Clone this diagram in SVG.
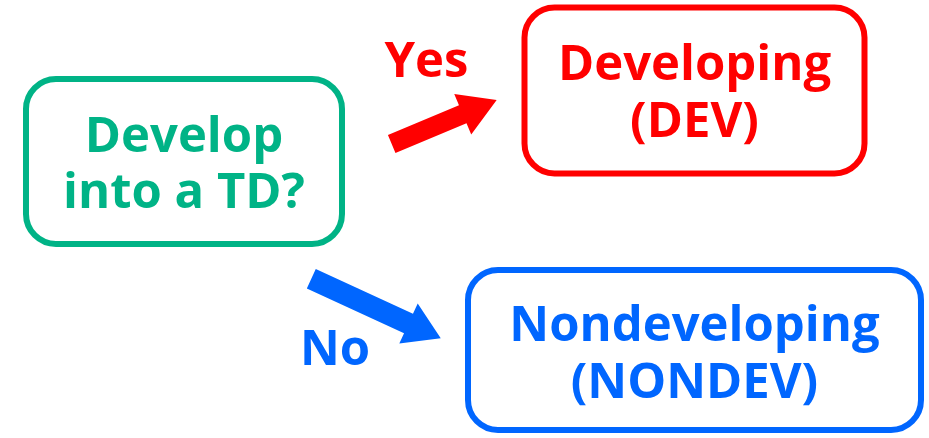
<svg xmlns="http://www.w3.org/2000/svg" width="929" height="438" viewBox="0 0 929 438">
<style>
text{font-family:"Open Sans","Noto Sans","DejaVu Sans",sans-serif;font-weight:bold;font-size:49px;text-anchor:middle}
.box{fill:#fff;stroke-width:6}
</style>
<rect width="929" height="438" fill="#fff"/>
<g id="question">
<rect class="box" x="26" y="79" width="316" height="165" rx="30" stroke="#00B386"/>
<text x="184" y="152" fill="#00B386">Develop</text>
<text x="184" y="208" fill="#00B386">into a TD?</text>
</g>
<g id="dev">
<rect class="box" x="524.5" y="7.5" width="340" height="166" rx="30" stroke="#FF0000" stroke-width="5"/>
<text x="694.5" y="80" fill="#FF0000">Developing</text>
<text x="694.5" y="137" fill="#FF0000">(DEV)</text>
</g>
<g id="nondev">
<rect class="box" x="468" y="270" width="453" height="160" rx="30" stroke="#0066FF" stroke-width="5.5"/>
<text x="694.5" y="341" fill="#0066FF">Nondeveloping</text>
<text x="694.5" y="398" fill="#0066FF">(NONDEV)</text>
</g>
<g id="connectors">
<polygon transform="translate(391.7,144) rotate(-22.7)" points="0,-9.75 77,-9.75 77,-22 113.8,0 77,22 77,9.75 0,9.75" fill="#FF0000"/>
<text x="426.5" y="77" fill="#FF0000">Yes</text>
<polygon transform="translate(311.3,278.7) rotate(24.7)" points="0,-10.7 107,-10.7 107,-22 142.5,0 107,22 107,10.7 0,10.7" fill="#0066FF"/>
<text x="335" y="365" fill="#0066FF">No</text>
</g>
</svg>
